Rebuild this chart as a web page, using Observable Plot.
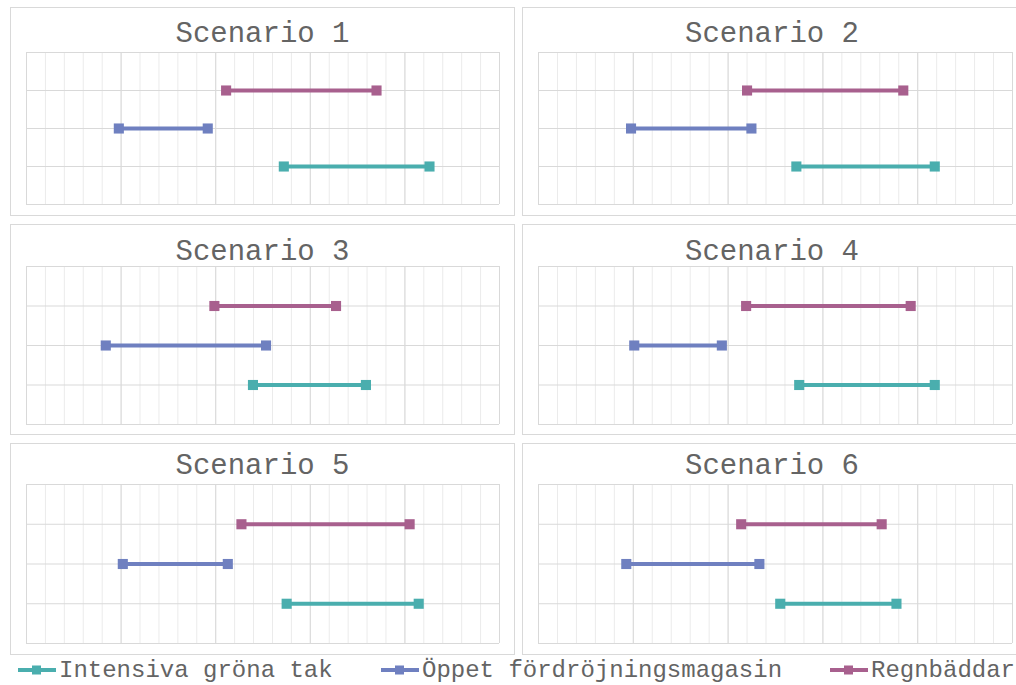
<!DOCTYPE html>
<html>
<head>
<meta charset="utf-8">
<script src="https://cdn.jsdelivr.net/npm/d3@7"></script>
<script src="https://cdn.jsdelivr.net/npm/@observablehq/plot@0.6"></script>
<style>
  html, body { margin: 0; padding: 0; background: #fff; }
  #root { position: relative; width: 1016px; height: 685px; overflow: hidden; background: #fff; font-family: "Liberation Mono", "DejaVu Sans Mono", monospace; }
  .panel { position: absolute; border: 1px solid #d9d9d9; box-sizing: border-box; background: #fff; }
  .title { position: absolute; left: 0; right: 0; text-align: center; font-size: 29px; line-height: 29px; color: #646464; white-space: nowrap; }
  .plot { position: absolute; }
  .legend-item { position: absolute; top: 656px; height: 28px; display: flex; align-items: center; font-size: 24px; color: #646464; white-space: nowrap; }
  .legend-item svg { margin-right: 3px; }
</style>
</head>
<body>
<div id="root"></div>
<script>
// ---- Data ----
const scenarios = ["Scenario 1", "Scenario 2", "Scenario 3", "Scenario 4", "Scenario 5", "Scenario 6"];
const seriesNames = ["Intensiva gröna tak", "Öppet fördröjningsmagasin", "Regnbäddar"];
const seriesColors = ["#4aaeae", "#6f80c0", "#a8608e"];
const seriesRow = [1, 2, 3];

const gronaTakStart = [13.6, 13.6, 11.97, 13.75, 13.75, 12.75];
const gronaTakEnd   = [21.3, 20.9, 17.94, 20.9, 20.73, 18.88];
const magasinStart  = [4.88, 4.88, 4.19, 5.05, 5.09, 4.63];
const magasinEnd    = [9.58, 11.23, 12.66, 9.67, 10.64, 11.65];
const regnStart     = [10.55, 11.0, 9.93, 10.95, 11.36, 10.69];
const regnEnd       = [18.5, 19.24, 16.36, 19.63, 20.25, 18.1];

const xDomain = [0, 25];
const minorTicks = d3.range(0, 26, 1);
const majorTicks = d3.range(0, 26, 5);
const hLines = [0, 1, 2, 3, 4];

// ---- Layout ----
const colLeft = [10, 522], colWidth = [505, 500];
const rowTop = [7, 224, 443], rowHeight = [209, 211, 212];
const plotTop = [45, 42, 41], plotHeight = [152, 158, 159];
const plotLeft = 16, plotWidth = [473, 474];
const titleTop = [12, 13, 8];

const starts = [gronaTakStart, magasinStart, regnStart];
const ends = [gronaTakEnd, magasinEnd, regnEnd];

const root = document.getElementById("root");

scenarios.forEach((name, i) => {
  const col = i % 2, row = Math.floor(i / 2);
  const panel = document.createElement("div");
  panel.className = "panel";
  panel.style.left = colLeft[col] + "px";
  panel.style.top = rowTop[row] + "px";
  panel.style.width = colWidth[col] + "px";
  panel.style.height = rowHeight[row] + "px";

  const t = document.createElement("div");
  t.className = "title";
  t.style.top = titleTop[row] + "px";
  t.textContent = name;
  panel.appendChild(t);

  const ranges = seriesNames.map((s, k) => ({series: s, y: seriesRow[k], start: starts[k][i], end: ends[k][i]}));
  const points = ranges.flatMap(r => [{series: r.series, y: r.y, x: r.start}, {series: r.series, y: r.y, x: r.end}]);

  const w = plotWidth[col], h = plotHeight[row];
  const chart = Plot.plot({
    width: w + 2,
    height: h + 2,
    margin: 1,
    x: {domain: xDomain, axis: null},
    y: {domain: [0, 4], axis: null},
    color: {domain: seriesNames, range: seriesColors},
    style: {background: "transparent", overflow: "visible"},
    marks: [
      Plot.ruleX(minorTicks, {stroke: "#ebebeb", strokeWidth: 1}),
      Plot.ruleX(majorTicks, {stroke: "#d9d9d9", strokeWidth: 1}),
      Plot.ruleY(hLines, {stroke: "#d9d9d9", strokeWidth: 1}),
      Plot.link(ranges, {x1: "start", x2: "end", y1: "y", y2: "y", stroke: "series", strokeWidth: 4}),
      Plot.dot(points, {x: "x", y: "y", fill: "series", symbol: "square", r: 5.7, stroke: "none"})
    ]
  });
  chart.classList.add("plot");
  chart.style.left = (plotLeft - 2) + "px";
  chart.style.top = (plotTop[row] - 2) + "px";
  panel.appendChild(chart);
  root.appendChild(panel);
});

// ---- Legend ----
const legendLeft = [18, 381, 830];
seriesNames.forEach((s, k) => {
  const item = document.createElement("div");
  item.className = "legend-item";
  item.style.left = legendLeft[k] + "px";
  const ns = "http://www.w3.org/2000/svg";
  const svg = document.createElementNS(ns, "svg");
  svg.setAttribute("width", 38);
  svg.setAttribute("height", 12);
  const line = document.createElementNS(ns, "line");
  line.setAttribute("x1", 0); line.setAttribute("x2", 38);
  line.setAttribute("y1", 6); line.setAttribute("y2", 6);
  line.setAttribute("stroke", seriesColors[k]); line.setAttribute("stroke-width", 4);
  const sq = document.createElementNS(ns, "rect");
  sq.setAttribute("x", 14); sq.setAttribute("y", 1.5); sq.setAttribute("width", 9); sq.setAttribute("height", 9);
  sq.setAttribute("fill", seriesColors[k]);
  svg.appendChild(line); svg.appendChild(sq);
  item.appendChild(svg);
  const span = document.createElement("span");
  span.textContent = s;
  item.appendChild(span);
  root.appendChild(item);
});
</script>
</body>
</html>
